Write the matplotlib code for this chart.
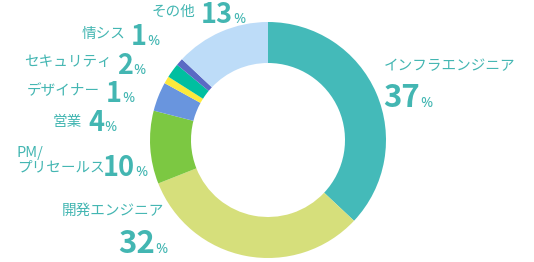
import matplotlib.pyplot as plt

plt.rcParams['font.family'] = ['Noto Sans CJK JP', 'DejaVu Sans']

labels = ['インフラエンジニア', '開発エンジニア', 'PM/\nプリセールス', '営業',
          'デザイナー', 'セキュリティ', '情シス', 'その他']
values = [37, 32, 10, 4, 1, 2, 1, 13]
colors = ['#44bab9', '#d6df7b', '#7cc842', '#6995de',
          '#fde93b', '#00bfa0', '#5a6ac4', '#bddcf8']
txt_color = '#43b6b2'

W, H = 534, 262
fig = plt.figure(figsize=(W / 100, H / 100), dpi=100)
ax = fig.add_axes([0, 0, 1, 1])

ax.pie(values, colors=colors, startangle=90, counterclock=False,
       center=(268, H - 140), radius=118,
       wedgeprops=dict(width=41, linewidth=0))
ax.set_xlim(0, W)
ax.set_ylim(0, H)
ax.set_aspect('equal')
ax.axis('off')

# label layout in pixels: name (x, y, ha), number (x, baseline), number size
layout = {
    'インフラエンジニア': ((384, 66, 'left'), (383, 107), 22.5),
    '開発エンジニア': ((164, 211, 'right'), (118, 253), 22.5),
    'PM/\nプリセールス': ((17, 160, 'left'), (103, 176), 19.5),
    '営業': ((82, 122, 'right'), (88, 131), 19.5),
    'デザイナー': ((100, 91, 'right'), (106, 102), 19.5),
    'セキュリティ': ((112, 62, 'right'), (117, 74), 19.5),
    '情シス': ((125, 34, 'right'), (131, 45), 19.5),
    'その他': ((195, 12, 'right'), (201, 23), 19.5),
}

renderer = fig.canvas.get_renderer()
for lab, val in zip(labels, values):
    (nx, ny, ha), (vx, vy), fs = layout[lab]
    ax.text(nx, H - ny, lab, ha=ha, va='center', fontsize=10.5,
            color=txt_color, linespacing=1.0)
    t = ax.text(vx, H - vy, str(val), ha='left', va='baseline', fontsize=fs,
                fontweight='bold', color=txt_color)
    x_end = t.get_window_extent(renderer).x1
    ax.text(x_end + 0.5, H - vy, '%', ha='left', va='baseline', fontsize=10.5,
            family=['Noto Sans'], color=txt_color)

fig.savefig('out.png', dpi=100)
